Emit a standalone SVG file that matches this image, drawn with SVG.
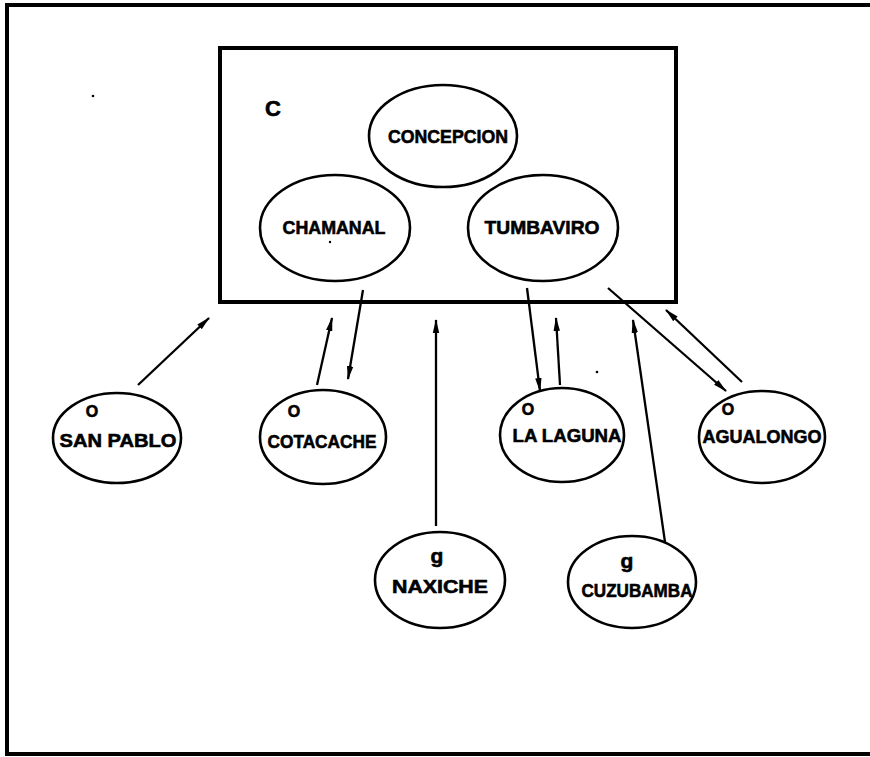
<svg xmlns="http://www.w3.org/2000/svg" width="870" height="757" viewBox="0 0 870 757">
<style>
.frame{fill:none;stroke:#000;stroke-width:4}
.node ellipse{fill:#fff;stroke:#000;stroke-width:2.6}
text{font-family:"Liberation Sans",Arial,sans-serif;font-weight:bold;fill:#000;stroke:#000;stroke-width:0.6;text-anchor:middle}
.lbl{font-size:19px}
.sm{font-size:16px}
.g{font-size:21px}
.conn line{stroke:#000;stroke-width:2.3;marker-end:url(#ah)}
</style>
<defs>
<marker id="ah" markerWidth="14" markerHeight="8" refX="13" refY="4" orient="auto" markerUnits="userSpaceOnUse">
<path d="M0,0.8 L14,4 L0,7.2 Z" fill="#000"/>
</marker>
</defs>
<rect width="870" height="757" fill="#fff"/>
<path class="frame" d="M880,5 L7,5 L7,754 L880,754"/>
<g id="box-c">
<rect class="frame" x="220" y="48" width="456" height="254"/>
<text x="273" y="116" style="font-size:22px">C</text>
</g>
<g id="concepcion" class="node"><ellipse cx="443" cy="136" rx="74" ry="51"/><text class="lbl" x="448" y="143" textLength="120" lengthAdjust="spacingAndGlyphs">CONCEPCION</text></g>
<g id="chamanal" class="node"><ellipse cx="335" cy="228" rx="75" ry="53"/><text class="lbl" x="334" y="234" textLength="103" lengthAdjust="spacingAndGlyphs">CHAMANAL</text></g>
<g id="tumbaviro" class="node"><ellipse cx="543" cy="228" rx="75" ry="53"/><text class="lbl" x="542" y="234" textLength="115" lengthAdjust="spacingAndGlyphs">TUMBAVIRO</text></g>
<g id="san-pablo" class="node"><ellipse cx="117" cy="438" rx="64" ry="45"/><text class="sm" x="92" y="417">O</text><text class="lbl" x="118" y="447" textLength="117" lengthAdjust="spacingAndGlyphs">SAN PABLO</text></g>
<g id="cotacache" class="node"><ellipse cx="323" cy="437" rx="63" ry="47"/><text class="sm" x="294" y="417">O</text><text class="lbl" x="322" y="448" textLength="109" lengthAdjust="spacingAndGlyphs">COTACACHE</text></g>
<g id="la-laguna" class="node"><ellipse cx="562" cy="435" rx="62" ry="47"/><text class="sm" x="528" y="415">O</text><text class="lbl" x="567" y="442" textLength="109" lengthAdjust="spacingAndGlyphs">LA LAGUNA</text></g>
<g id="agualongo" class="node"><ellipse cx="762" cy="437" rx="63" ry="46"/><text class="sm" x="728" y="415">O</text><text class="lbl" x="762" y="443" textLength="119" lengthAdjust="spacingAndGlyphs">AGUALONGO</text></g>
<g id="naxiche" class="node"><ellipse cx="440" cy="580" rx="65" ry="48"/><text class="g" x="437" y="563">g</text><text class="lbl" x="440" y="593" textLength="96" lengthAdjust="spacingAndGlyphs">NAXICHE</text></g>
<g id="cuzubamba" class="node"><ellipse cx="632" cy="582" rx="64" ry="46"/><text class="g" x="627" y="568">g</text><text class="lbl" x="637" y="597" textLength="111" lengthAdjust="spacingAndGlyphs">CUZUBAMBA</text></g>
<g id="connectors" class="conn">
<line x1="138" y1="385" x2="209" y2="318"/>
<line x1="317" y1="385" x2="332" y2="318"/>
<line x1="363" y1="290" x2="348" y2="379"/>
<line x1="436" y1="526" x2="436" y2="320"/>
<line x1="527" y1="288" x2="540" y2="391"/>
<line x1="560" y1="385" x2="556" y2="318"/>
<line x1="665" y1="542" x2="633" y2="320"/>
<line x1="608" y1="288" x2="726" y2="391"/>
<line x1="742" y1="382" x2="666" y2="310"/>
</g>
<circle cx="93" cy="96" r="1.3" fill="#000"/>
<circle cx="330" cy="242" r="1.2" fill="#000"/>
<circle cx="597" cy="372" r="1.3" fill="#000"/>
</svg>
